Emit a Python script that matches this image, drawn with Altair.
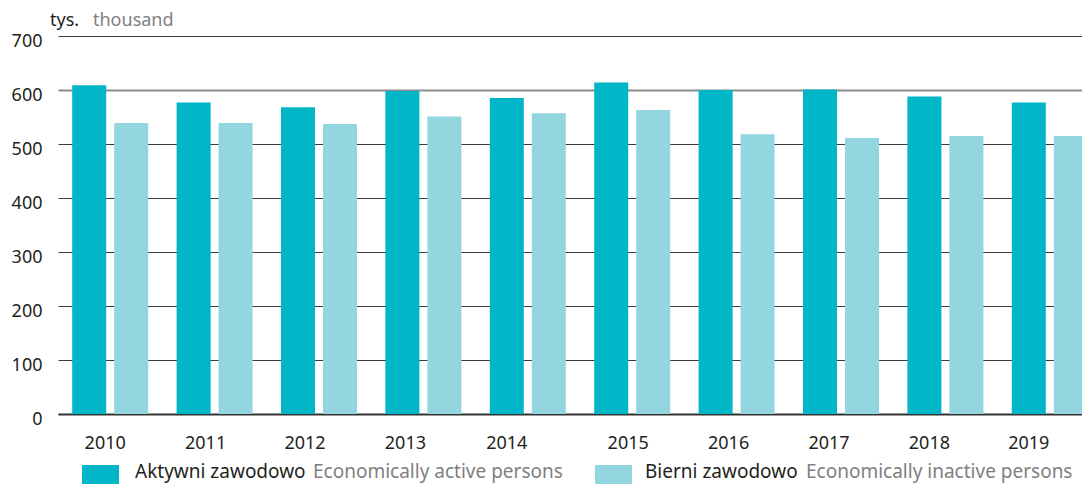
import altair as alt
import pandas as pd

# ---- data ----
years = [str(y) for y in range(2010, 2020)]
active = [609, 577, 568, 598, 585, 614, 600, 601, 588, 577]
inactive = [539, 539, 537, 551, 557, 563, 518, 511, 515, 515]
series = ["Aktywni zawodowo", "Bierni zawodowo"]
series_en = ["Economically active persons", "Economically inactive persons"]
colors = ["#00B6C7", "#93D6DF"]
y_ticks = [0, 100, 200, 300, 400, 500, 600, 700]
unit_pl = "tys."
unit_en = "thousand"

rows = []
for yr, a, i in zip(years, active, inactive):
    rows.append({"year": yr, "series": series[0], "value": a})
    rows.append({"year": yr, "series": series[1], "value": i})
df = pd.DataFrame(rows)

FONT = "Noto Sans"
DARK = "#231f20"
GRAY = "#808080"
W, H = 1024, 378

label_offsets = [-5, -9, -14, -18, -21, -4, -8, -12, -16, -21]
x_label_offset = {
    "condition": [
        {"test": f"datum.value === '{yr}'", "value": off}
        for yr, off in zip(years, label_offsets)
    ],
    "value": -13,
}

bars = alt.Chart(df).mark_bar().encode(
    x=alt.X(
        "year:N",
        sort=years,
        scale=alt.Scale(range=[0, 1044], paddingInner=0, paddingOuter=0),
        axis=alt.Axis(
            title=None, labelAngle=0, ticks=False, grid=False,
            domainColor="#333333", domainWidth=2,
            labelFont=FONT, labelFontSize=18, labelColor=DARK,
            labelPadding=20, labelOffset=x_label_offset,
        ),
    ),
    xOffset=alt.XOffset(
        "series:N", sort=series,
        scale=alt.Scale(paddingInner=0.19, paddingOuter=0.338),
    ),
    y=alt.Y(
        "value:Q",
        scale=alt.Scale(domain=[0, 700], nice=False),
        axis=alt.Axis(
            values=y_ticks, title=None, ticks=False, domain=False,
            gridColor={"condition": {"test": "datum.value === 600", "value": "#8c8c8c"}, "value": "#3a3a3a"},
            gridWidth={"condition": {"test": "datum.value === 600", "value": 2}, "value": 1},
            labelFont=FONT, labelFontSize=18, labelColor=DARK,
            labelPadding=16, labelOffset=5,
        ),
    ),
    color=alt.Color("series:N", scale=alt.Scale(domain=series, range=colors), legend=None),
)

one = pd.DataFrame({"k": [0]})


def text_at(txt, x, y, color, size=18):
    return alt.Chart(pd.DataFrame({"t": [txt]})).mark_text(
        font=FONT, fontSize=size, color=color, align="left", baseline="alphabetic"
    ).encode(x=alt.value(x), y=alt.value(y), text="t:N")


def swatch(x, color):
    return alt.Chart(one).mark_rect(color=color).encode(
        x=alt.value(x), x2=alt.value(x + 37), y=alt.value(429), y2=alt.value(460)
    )


title_pl = text_at(unit_pl, -8, -10, DARK)
title_en = text_at(unit_en, 35, -10, GRAY)

leg = [
    swatch(24, colors[0]),
    text_at(series[0], 77, 442, DARK, 19),
    text_at(series_en[0], 255, 442, GRAY, 19),
    swatch(537, colors[1]),
    text_at(series[1], 587, 442, DARK, 19),
    text_at(series_en[1], 748, 442, GRAY, 19),
]

chart = alt.layer(bars, title_pl, title_en, *leg).properties(
    width=W, height=H,
    autosize=alt.AutoSizeParams(type="none"),
    padding={"left": 50, "top": 28, "right": 0, "bottom": 70},
).configure_view(stroke=None)

chart.save("out.html", embed_options={"renderer": "svg", "actions": False})
